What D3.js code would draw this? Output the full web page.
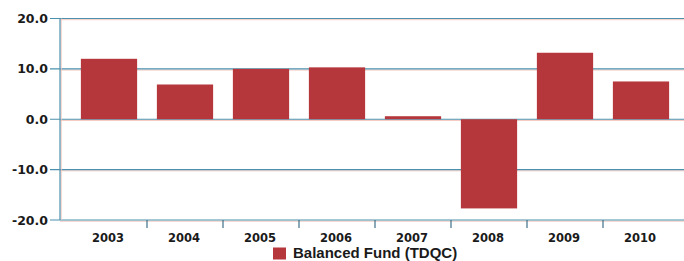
<!DOCTYPE html>
<html><head><meta charset="utf-8">
<script src="https://cdn.jsdelivr.net/npm/d3@7"></script>
<style>body{margin:0;background:#fff;}svg{display:block;}</style>
</head><body><svg id="c" width="684" height="261"></svg>
<script>
const categories = ["2003","2004","2005","2006","2007","2008","2009","2010"];
const values = [12.0, 6.9, 10.0, 10.3, 0.6, -17.7, 13.2, 7.5];
const yTicks = [20, 10, 0, -10, -20];
const seriesName = "Balanced Fund (TDQC)";

(function(){
const svg = d3.select("#c");
const pLeft = 60, pRight = 684, pTop = 18.5, pBottom = 220;
const x = d3.scaleBand().domain(categories).range([71, 679]).paddingInner(0.26).paddingOuter(0.13);
const xb = d3.scaleBand().domain(categories).range([71, 679]);
const y = d3.scaleLinear().domain([-20, 20]).range([pBottom, pTop]);

const grid = "#4b91ad";
yTicks.forEach(t => {
  svg.append("line").attr("x1", pLeft).attr("x2", pRight).attr("y1", y(t)+1.2).attr("y2", y(t)+1.2)
    .attr("stroke", "#f4c9c0").attr("stroke-width", 1);
  svg.append("line").attr("x1", pLeft-10).attr("x2", pRight).attr("y1", y(t)).attr("y2", y(t))
    .attr("stroke", grid).attr("stroke-width", 1.2);
});
svg.append("line").attr("x1", pLeft+1.2).attr("x2", pLeft+1.2).attr("y1", pTop).attr("y2", pBottom)
  .attr("stroke", "#f4c9c0").attr("stroke-width", 1);
svg.append("line").attr("x1", pLeft).attr("x2", pLeft).attr("y1", pTop).attr("y2", pBottom)
  .attr("stroke", grid).attr("stroke-width", 1.2);

svg.selectAll("rect.bar").data(values).enter().append("rect")
  .attr("x", (d,i) => x(categories[i]))
  .attr("width", x.bandwidth())
  .attr("y", d => y(Math.max(0, d)))
  .attr("height", d => Math.abs(y(d) - y(0)))
  .attr("fill", "#b5363b");

categories.slice(1).forEach(c => {
  svg.append("line").attr("x1", xb(c)).attr("x2", xb(c)).attr("y1", pBottom).attr("y2", pBottom+8)
    .attr("stroke", "#3f6f86").attr("stroke-width", 1.2);
});
svg.selectAll("text.xl").data(categories).enter().append("text")
  .attr("x", c => xb(c) + xb.bandwidth()/2 - 1)
  .attr("y", 241.5)
  .attr("text-anchor", "middle")
  .attr("font-family", "DejaVu Sans, Verdana, sans-serif")
  .attr("font-weight", "bold").attr("font-size", 11.5)
  .attr("fill", "#1a1a1a")
  .text(c => c);
svg.selectAll("text.yl").data(yTicks).enter().append("text")
  .attr("x", 48)
  .attr("y", t => y(t) + 4.5)
  .attr("text-anchor", "end")
  .attr("font-family", "DejaVu Sans, Verdana, sans-serif")
  .attr("font-weight", "bold").attr("font-size", 12.5)
  .attr("fill", "#1a1a1a")
  .text(t => d3.format(".1f")(t).replace("\u2212", "-"));

svg.append("rect").attr("x", 273).attr("y", 247.5).attr("width", 13).attr("height", 12).attr("fill", "#b5363b");
svg.append("text").attr("x", 293).attr("y", 258)
  .attr("font-family", "Liberation Sans, Arial, sans-serif")
  .attr("font-weight", "bold").attr("font-size", 15)
  .attr("fill", "#1a1a1a")
  .text(seriesName);
})();
</script></body></html>
